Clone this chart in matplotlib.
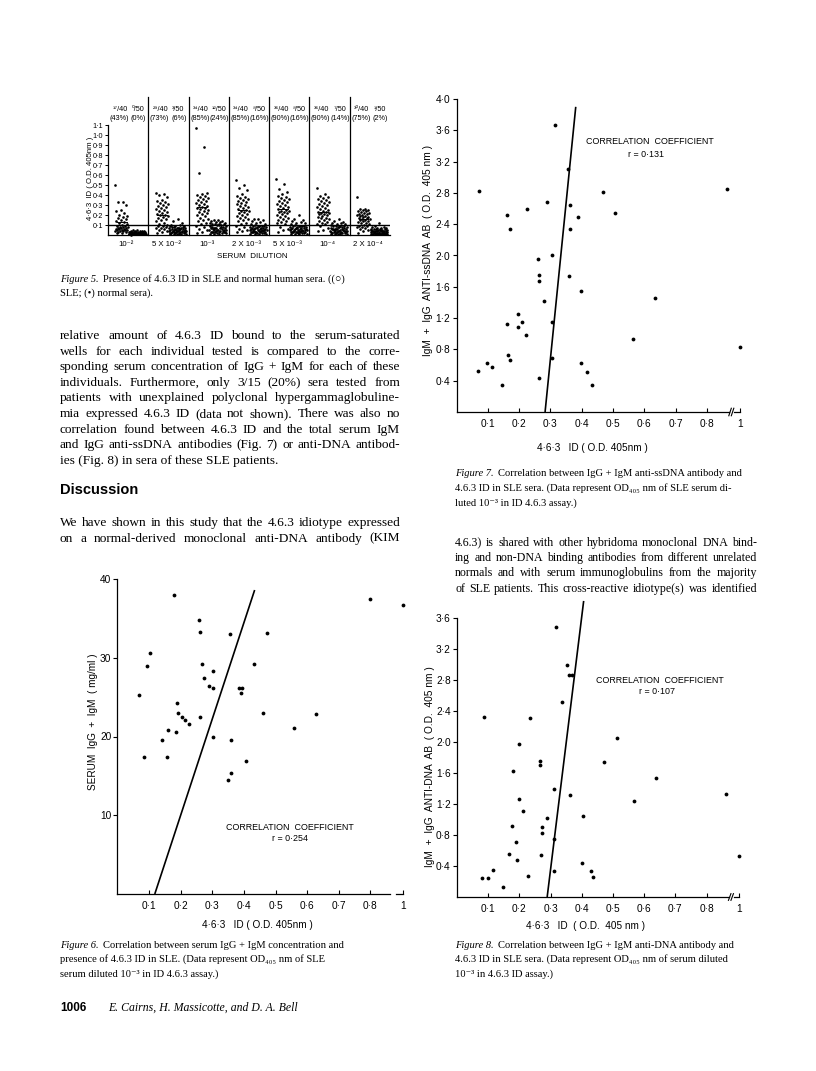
import matplotlib
matplotlib.use('Agg')
import matplotlib.pyplot as plt
import numpy as np

# ---------------- data ----------------
# Figure 5: 4.6.3 ID (O.D. 405nm, x100) per serum dilution, SLE and normal sera
dilution_labels = ['10⁻²', '5 X 10⁻²', '10⁻³', '2 X 10⁻³', '5 X 10⁻³', '10⁻⁴', '2 X 10⁻⁴']
sle_frac = ['¹⁷/40', '²⁹/40', '³⁴/40', '³⁴/40', '³⁶/40', '³⁶/40', '³⁰/40']
sle_pct = ['(43%)', '(73%)', '(85%)', '(85%)', '(90%)', '(90%)', '(75%)']
nhs_frac = ['⁰/50', '³/50', '¹²/50', '⁸/50', '⁸/50', '⁷/50', '¹/50']
nhs_pct = ['(0%)', '(6%)', '(24%)', '(16%)', '(16%)', '(14%)', '(2%)']

sle_g1 = [50,33,33,30,25,24,22,20,19,18,17,16,15,14,13,12,11,10,9,9,8,8,8,7,7,7,6,6,6,5,5,5,5,4,4,4,3,3,2,2]
nhs_g1 = [5,5,4,4,4,4,4,3,3,3,3,3,3,3,3,3,2,2,2,2,2,2,2,2,2,2,2,2,2,1,1,1,1,1,1,1,1,1,1,1,1,1,1,1,1,1,1,1,1,1]
sle_g2 = [42,41,40,38,35,34,33,32,31,30,29,28,27,26,25,24,23,22,21,20,20,19,18,17,16,15,14,12,11,10,9,9,8,7,7,6,5,4,3,2]
nhs_g2 = [16,14,12,10,10,9,9,9,8,8,8,8,7,7,7,7,6,6,6,6,6,5,5,5,5,5,5,4,4,4,4,4,4,3,3,3,3,3,3,2,2,2,2,2,1,1,1,1,1,1]
sle_g3 = [107,88,62,42,41,40,39,38,37,36,35,34,33,32,31,30,29,28,27,27,26,25,24,23,22,21,20,19,17,16,15,14,12,11,9,8,6,5,3,2]
nhs_g3 = [15,15,14,14,13,13,12,12,12,11,11,11,10,10,9,9,9,8,8,8,8,7,7,7,7,6,6,6,6,5,5,5,5,5,4,4,4,4,3,3,3,3,3,2,2,2,2,1,1,1]
sle_g4 = [55,50,47,45,41,39,38,37,36,35,34,33,32,31,30,29,28,27,26,25,24,24,23,22,21,20,19,18,17,16,15,14,12,11,9,8,6,5,4,3]
nhs_g4 = [16,16,15,14,13,12,11,11,10,10,9,9,9,8,8,8,8,7,7,7,7,7,6,6,6,6,6,5,5,5,5,5,4,4,4,4,4,3,3,3,3,3,2,2,2,2,1,1,1,1]
sle_g5 = [56,51,46,43,41,39,38,37,36,35,34,33,32,31,30,29,28,27,26,25,24,24,23,23,22,21,20,19,18,17,16,15,14,13,12,11,8,6,5,3]
nhs_g5 = [20,16,15,14,13,12,12,11,10,10,9,9,9,8,8,8,8,7,7,7,7,7,6,6,6,6,6,5,5,5,5,5,4,4,4,4,4,3,3,3,3,3,2,2,2,2,1,1,1,1]
sle_g6 = [47,41,39,38,37,36,35,34,33,32,31,30,29,28,27,26,25,24,23,23,22,22,21,21,20,19,18,17,17,16,15,14,13,12,11,11,9,7,5,4]
nhs_g6 = [16,14,13,12,12,11,11,10,10,9,9,9,8,8,8,7,7,7,7,6,6,6,6,6,5,5,5,5,5,4,4,4,4,4,4,3,3,3,3,3,2,2,2,2,2,1,1,1,1,1]
sle_g7 = [38,26,26,25,25,24,24,23,22,22,21,21,20,20,19,19,18,18,17,17,16,16,15,15,14,14,13,12,12,11,10,9,9,8,8,7,6,5,4,2]
nhs_g7 = [12,9,8,8,7,7,7,6,6,6,6,6,5,5,5,5,5,5,4,4,4,4,4,4,4,3,3,3,3,3,3,3,2,2,2,2,2,2,2,1,1,1,1,1,1,1,1,1,1,1]
sle_groups = [sle_g1, sle_g2, sle_g3, sle_g4, sle_g5, sle_g6, sle_g7]
nhs_groups = [nhs_g1, nhs_g2, nhs_g3, nhs_g4, nhs_g5, nhs_g6, nhs_g7]

# Figure 6: serum IgG + IgM (mg/ml) vs 4.6.3 ID
fig6_id = [0.067,0.085,0.094,0.102,0.140,0.157,0.161,0.184,0.189,0.191,0.203,0.215,0.227,0.178,0.257,
           0.261,0.266,0.262,0.274,0.289,0.302,0.303,0.302,0.356,0.351,0.358,0.359,0.384,0.395,0.390,
           0.406,0.432,0.460,0.474,0.560,0.629,0.798,1.0]
fig6_ig = [25.3,17.4,28.9,30.6,19.5,17.4,20.8,20.6,24.2,23.0,22.5,22.1,21.6,38.0,34.8,
           33.3,29.2,22.5,27.4,26.4,28.3,26.2,20.0,33.0,14.5,15.4,19.5,26.1,26.1,25.5,
           16.9,29.2,23.0,33.1,21.1,22.9,37.5,36.7]
fig6_fit_x = [0.118, 0.434]
fig6_fit_y = [0.0, 38.6]

# Figure 7: IgM + IgG anti-ssDNA AB vs 4.6.3 ID
fig7_id = [0.068,0.071,0.098,0.114,0.144,0.161,0.172,0.162,0.163,0.172,
           0.195,0.196,0.209,0.223,0.226,0.288,0.260,0.265,0.265,0.280,
           0.264,0.306,0.305,0.306,0.314,0.356,0.362,0.362,0.361,0.388,
           0.399,0.398,0.417,0.432,0.468,0.506,0.564,0.634,0.865,1.0]
fig7_ab = [0.53,2.83,0.62,0.57,0.34,2.52,2.34,1.13,0.73,0.67,
           1.25,1.08,1.15,0.99,2.59,2.69,1.96,1.75,1.67,1.42,
           0.43,2.01,1.15,0.69,3.67,3.11,2.64,2.34,1.74,2.49,
           1.54,0.63,0.51,0.35,2.81,2.54,0.93,1.46,2.85,0.83]
fig7_fit_x = [0.283, 0.381]
fig7_fit_y = [0.0, 3.9]

# Figure 8: IgM + IgG anti-DNA AB vs 4.6.3 ID
fig8_id = [0.081,0.100,0.116,0.088,0.149,0.168,0.177,0.178,0.188,0.193,
           0.198,0.200,0.213,0.228,0.233,0.267,0.267,0.268,0.274,0.274,
           0.288,0.311,0.312,0.310,0.316,0.354,0.360,0.369,0.338,0.363,
           0.402,0.404,0.431,0.437,0.471,0.512,0.567,0.637,0.861,1.0]
fig8_ab = [0.25,0.24,0.35,2.32,0.13,0.55,0.92,1.62,0.71,0.48,
           1.26,1.98,1.11,0.27,2.31,1.75,1.70,0.54,0.90,0.83,
           1.02,1.40,0.75,0.33,3.49,3.00,2.87,2.87,2.51,1.31,
           0.44,1.05,0.34,0.26,1.74,2.05,1.24,1.53,1.33,0.53]
fig8_fit_x = [0.289, 0.406]
fig8_fit_y = [0.0, 3.82]

id_ticks = [0.1, 0.2, 0.3, 0.4, 0.5, 0.6, 0.7, 0.8, 1.0]
id_tick_labels = ['0·1', '0·2', '0·3', '0·4', '0·5', '0·6', '0·7', '0·8', '1']

# ---------------- page setup ----------------
W, H = 816, 1071
SANS = ['Liberation Sans', 'DejaVu Sans']
SERIF = ['Liberation Serif', 'DejaVu Serif', 'DejaVu Sans']
plt.rcParams['font.family'] = SANS
fig = plt.figure(figsize=(W / 100, H / 100), dpi=100)
fig.patch.set_facecolor('white')
renderer = fig.canvas.get_renderer()
LW = 0.9


def rect(l, t, r, b):
    return [l / W, 1 - b / H, (r - l) / W, (b - t) / H]


def ftext(x, y, s, **kw):
    kw.setdefault('va', 'center')
    return fig.text(x / W, 1 - y / H, s, **kw)


def width_of(s, fs, family, **kw):
    t = fig.text(0, 0, s, fontsize=fs, family=family, **kw)
    w = t.get_window_extent(renderer).width
    t.remove()
    return w


def vdc(k, base=2):
    """Van der Corput sequence value in [0, 1) (deterministic strip spreading)."""
    v, denom = 0.0, 1.0
    while k:
        k, rem = divmod(k, base)
        denom *= base
        v += rem / denom
    return v


# ---------------- Figure 5 ----------------
ax5 = fig.add_axes(rect(108, 122, 390, 235))
ax5.set_xlim(0, 7)
ax5.set_ylim(0, 1.13)
for sp in ['top', 'right']:
    ax5.spines[sp].set_visible(False)
ax5.spines['left'].set_bounds(0, 1.1)
ax5.spines['left'].set_linewidth(LW)
ax5.spines['bottom'].set_linewidth(LW)
yt5 = [0.1 * k for k in range(1, 12)]
ax5.set_yticks(yt5)
ax5.set_yticklabels(['%d·%d' % divmod(k, 10) for k in range(1, 12)], fontsize=5.2)
ax5.tick_params(axis='y', direction='out', length=2, width=0.7, pad=1.5)
ax5.set_xticks([g + 0.45 for g in range(7)])
ax5.set_xticklabels(dilution_labels, fontsize=5.6)
ax5.tick_params(axis='x', length=0, pad=4)
ax5.axhline(0.1, color='black', lw=1.0)
golden = 0.6180339887
for g in range(7):
    s_vals = np.array(sle_groups[g]) / 100.0
    n_vals = np.array(nhs_groups[g]) / 100.0
    js = np.array([((k * golden) % 1.0) * 2 - 1 for k in range(len(s_vals))])
    jn = np.array([vdc(k + 1) * 2 - 1 for k in range(len(n_vals))])
    yn = np.array([(vdc(k + 1, 3) - 0.5) * 0.012 for k in range(len(n_vals))])
    ax5.scatter(g + 0.34 + 0.16 * js, s_vals, s=3.6, color='black', lw=0, clip_on=False)
    ax5.scatter(g + 0.73 + 0.22 * jn, n_vals + yn, s=3.6, color='black', lw=0, clip_on=False)
    m = s_vals.mean()
    ax5.plot([g + 0.22, g + 0.46], [m, m], color='black', lw=0.7)
    if g > 0:
        ax5.plot([g, g], [0, 1.38], color='black', lw=LW, clip_on=False)
    ax5.text(g + 0.30, 1.255, sle_frac[g], fontsize=5.2, ha='center', va='center')
    ax5.text(g + 0.75, 1.255, nhs_frac[g], fontsize=5.2, ha='center', va='center')
    ax5.text(g + 0.28, 1.16, sle_pct[g], fontsize=5.2, ha='center', va='center')
    ax5.text(g + 0.76, 1.16, nhs_pct[g], fontsize=5.2, ha='center', va='center')
ftext(90, 178, '4·6·3  ID ( O.D. 405nm )', fontsize=5.6, rotation=90, ha='center')
ftext(252, 257, 'SERUM  DILUTION', fontsize=5.8, ha='center')


# ---------------- correlation figures ----------------
X1POS = 0.905


def xmap(vals):
    v = np.asarray(vals, dtype=float)
    return np.where(v >= 0.95, X1POS, v)


def corr_axes(r, ymax, yticks, ylabels, slash=True):
    ax = fig.add_axes(r)
    ax.set_xlim(0, 0.93)
    ax.set_ylim(0, ymax)
    for sp in ['top', 'right']:
        ax.spines[sp].set_visible(False)
    ax.spines['left'].set_linewidth(LW)
    ax.spines['bottom'].set_linewidth(LW)
    ax.spines['left'].set_bounds(0, ymax)
    ax.spines['bottom'].set_bounds(0, 0.872 if slash else 0.863)
    ax.set_yticks(yticks)
    ax.set_yticklabels(ylabels, fontsize=7.3)
    ax.tick_params(axis='y', direction='out', length=3, width=0.8, pad=1.5)
    ax.set_xticks(xmap(id_ticks))
    ax.set_xticklabels(id_tick_labels, fontsize=7.3)
    ax.tick_params(axis='x', direction='in', length=3, width=0.8, pad=5)
    tr = ax.get_xaxis_transform()
    x0 = 0.887 if slash else 0.882
    ax.plot([x0, X1POS], [0, 0], color='black', lw=LW, transform=tr, clip_on=False)
    if slash:
        for dx in (0.874, 0.882):
            ax.plot([dx - 0.004, dx + 0.004], [-0.012, 0.012], color='black', lw=0.8,
                    transform=tr, clip_on=False)
    return ax


def draw_points(ax, xs, ys, fx, fy):
    ax.scatter(xmap(xs), ys, s=7.5, color='black', lw=0, zorder=3, clip_on=False)
    ax.plot(fx, fy, color='black', lw=1.2, clip_on=False, solid_capstyle='butt')


# Figure 6
ax6 = corr_axes(rect(117.5, 579, 117.5 + 0.93 * 316, 894), 40, [10, 20, 30, 40],
                ['10', '20', '30', '40'], slash=False)
draw_points(ax6, fig6_id, fig6_ig, fig6_fit_x, fig6_fit_y)
ax6.text(0.545, 8.5, 'CORRELATION  COEFFICIENT', fontsize=6.4, ha='center', va='center')
ax6.text(0.545, 7.1, 'r = 0·254', fontsize=6.4, ha='center', va='center')
ftext(93, 722, 'SERUM  IgG  +  IgM  ( mg/ml )', fontsize=7.2, rotation=90, ha='center')
ftext(257, 925, '4·6·3   ID ( O.D. 405nm )', fontsize=7.2, ha='center')

# Figure 7
ax7 = corr_axes(rect(456.5, 99, 456.5 + 0.93 * 313, 412), 4.0,
                [0.4 * k for k in range(1, 11)],
                ['%d·%d' % divmod(4 * k, 10) for k in range(1, 11)])
draw_points(ax7, fig7_id, fig7_ab, fig7_fit_x, fig7_fit_y)
ax7.text(0.617, 3.455, 'CORRELATION  COEFFICIENT', fontsize=6.4, ha='center', va='center')
ax7.text(0.607, 3.29, 'r = 0·131', fontsize=6.4, ha='center', va='center')
ftext(428, 250, 'IgM  +  IgG  ANTI-ssDNA  AB  ( O.D.  405 nm )', fontsize=7.3, rotation=90, ha='center')
ftext(592, 448, '4·6·3   ID ( O.D. 405nm )', fontsize=7.2, ha='center')

# Figure 8
ax8 = corr_axes(rect(457, 618, 457 + 0.93 * 312, 897), 3.6,
                [0.4 * k for k in range(1, 10)],
                ['%d·%d' % divmod(4 * k, 10) for k in range(1, 10)])
draw_points(ax8, fig8_id, fig8_ab, fig8_fit_x, fig8_fit_y)
ax8.text(0.65, 2.79, 'CORRELATION  COEFFICIENT', fontsize=6.4, ha='center', va='center')
ax8.text(0.64, 2.65, 'r = 0·107', fontsize=6.4, ha='center', va='center')
ftext(430, 767, 'IgM  +  IgG  ANTI-DNA  AB  ( O.D.  405 nm )', fontsize=7.3, rotation=90, ha='center')
ftext(586, 926, '4·6·3   ID  ( O.D.  405 nm )', fontsize=7.2, ha='center')


# ---------------- page text ----------------
def justified_block(x0, x1, y0, lead, lines, fs, last_ragged=True):
    for i, line in enumerate(lines):
        y = y0 + i * lead
        if last_ragged and i == len(lines) - 1:
            ftext(x0, y, line, fontsize=fs, family=SERIF, ha='left')
            continue
        words = line.split(' ')
        ws = [width_of(w, fs, SERIF) for w in words]
        gap = ((x1 - x0) - sum(ws)) / max(len(words) - 1, 1)
        x = x0
        for w, wd in zip(words, ws):
            ftext(x, y, w, fontsize=fs, family=SERIF, ha='left')
            x += wd + gap


def fit_size(lines, width, base=10.0):
    ratio = max(width_of(l, base, SERIF) / width for l in lines)
    return base / ratio * 0.975


def caption(x, y0, lead, label, lines, fs):
    ftext(x, y0, label, fontsize=fs, family=SERIF, style='italic', ha='left')
    w = width_of(label + ' ', fs, SERIF, style='italic')
    ftext(x + w + 1.5, y0, lines[0], fontsize=fs, family=SERIF, ha='left')
    for i, l in enumerate(lines[1:]):
        ftext(x, y0 + (i + 1) * lead, l, fontsize=fs, family=SERIF, ha='left')


left_para = [
    'relative amount of 4.6.3 ID bound to the serum-saturated',
    'wells for each individual tested is compared to the corre-',
    'sponding serum concentration of IgG + IgM for each of these',
    'individuals. Furthermore, only 3/15 (20%) sera tested from',
    'patients with unexplained polyclonal hypergammaglobuline-',
    'mia expressed 4.6.3 ID (data not shown). There was also no',
    'correlation found between 4.6.3 ID and the total serum IgM',
    'and IgG anti-ssDNA antibodies (Fig. 7) or anti-DNA antibod-',
    'ies (Fig. 8) in sera of these SLE patients.',
]
disc_para = [
    'We have shown in this study that the 4.6.3 idiotype expressed',
    'on a normal-derived monoclonal anti-DNA antibody (KIM',
]
right_para = [
    '4.6.3) is shared with other hybridoma monoclonal DNA bind-',
    'ing and non-DNA binding antibodies from different unrelated',
    'normals and with serum immunoglobulins from the majority',
    'of SLE patients. This cross-reactive idiotype(s) was identified',
]
left_fs = fit_size(left_para + disc_para, 340)
right_fs = fit_size(right_para, 302)
justified_block(60, 400, 336, 15.6, left_para, left_fs)
ftext(60, 490, 'Discussion', fontsize=10.5, family=SANS, weight='bold', ha='left')
justified_block(60, 400, 523, 15.6, disc_para, left_fs, last_ragged=False)
justified_block(455, 757, 543, 15.2, right_para, right_fs, last_ragged=False)

cap_fs = 7.6
caption(60, 279, 14.5, 'Figure 5.',
        ['Presence of 4.6.3 ID in SLE and normal human sera. ((○)', 'SLE; (•) normal sera).'], cap_fs)
caption(455, 474, 14.5, 'Figure 7.',
        ['Correlation between IgG + IgM anti-ssDNA antibody and',
         '4.6.3 ID in SLE sera. (Data represent OD₄₀₅ nm of SLE serum di-',
         'luted 10⁻³ in ID 4.6.3 assay.)'], cap_fs)
caption(60, 945, 14.5, 'Figure 6.',
        ['Correlation between serum IgG + IgM concentration and',
         'presence of 4.6.3 ID in SLE. (Data represent OD₄₀₅ nm of SLE',
         'serum diluted 10⁻³ in ID 4.6.3 assay.)'], cap_fs)
caption(455, 945, 14.5, 'Figure 8.',
        ['Correlation between IgG + IgM anti-DNA antibody and',
         '4.6.3 ID in SLE sera. (Data represent OD₄₀₅ nm of serum diluted',
         '10⁻³ in 4.6.3 ID assay.)'], cap_fs)

ftext(60, 1008, '1006', fontsize=8.5, family=SANS, weight='bold', ha='left')
ftext(108, 1008, 'E. Cairns, H. Massicotte, and D. A. Bell', fontsize=8.5, family=SERIF,
      style='italic', ha='left')

fig.savefig('out.png', dpi=100, facecolor='white')
